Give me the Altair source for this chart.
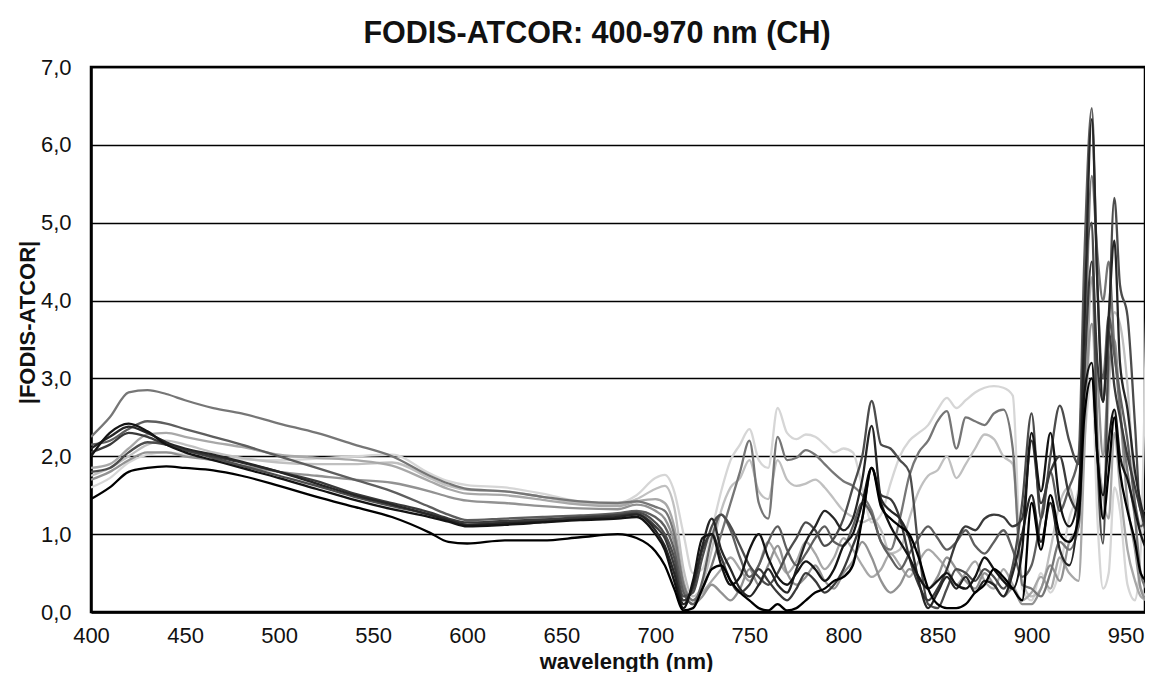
import altair as alt
import pandas as pd

# wavelength grid (nm)
wavelength = [400, 410, 420, 430, 440, 450, 465, 480, 500, 520,
              540, 560, 580, 590, 600, 620, 640, 660, 680, 690,
              700, 705, 710, 715, 720, 725, 730, 735, 740, 745,
              750, 755, 760, 765, 770, 775, 780, 785, 790, 795,
              800, 805, 810, 815, 820, 825, 830, 835, 840, 845,
              850, 855, 860, 865, 870, 875, 880, 885, 890, 895,
              900, 905, 910, 915, 920, 925, 928, 932, 935, 938,
              941, 944, 947, 951, 955, 958, 961]

s01 = [1.60, 1.72, 1.92, 2.02, 2.05, 2.02, 1.98, 1.96, 1.95, 1.97,
       2.00, 2.02, 1.78, 1.68, 1.63, 1.60, 1.52, 1.42, 1.40, 1.50,
       1.72, 1.76, 1.55, 1.00, 0.50, 0.55, 1.05, 1.55, 1.95, 2.15,
       2.35, 1.95, 1.85, 2.62, 2.30, 2.22, 2.28, 2.25, 2.15, 2.05,
       2.10, 2.05, 1.60, 1.15, 1.25, 1.65, 2.00, 2.20, 2.30, 2.40,
       2.60, 2.75, 2.62, 2.72, 2.82, 2.88, 2.90, 2.88, 2.78, 0.30,
       0.15, 0.50, 0.25, 0.55, 1.20, 1.60, 2.20, 3.00, 1.20, 0.30,
       0.50, 1.60, 1.30, 0.35, 0.15, 0.80, 3.90]
s02 = [1.75, 1.85, 2.00, 2.15, 2.20, 2.15, 2.05, 1.98, 1.92, 1.90,
       1.90, 1.92, 1.72, 1.62, 1.57, 1.55, 1.48, 1.40, 1.38, 1.45,
       1.58, 1.62, 1.35, 0.55, 0.20, 0.35, 0.80, 1.30, 1.60, 1.72,
       1.95, 1.55, 1.45, 1.95, 1.70, 1.62, 1.65, 1.70, 1.60, 1.45,
       1.30, 1.22, 1.15, 1.20, 1.05, 0.75, 0.80, 1.20, 1.55, 1.75,
       1.82, 2.00, 1.72, 1.90, 2.10, 2.28, 2.22, 2.00, 1.90, 0.40,
       0.20, 0.30, 0.80, 1.40, 1.60, 1.20, 2.20, 3.70, 2.40, 1.20,
       2.80, 3.85, 3.70, 2.90, 1.40, 0.30, 0.20]
s03 = [1.85, 1.90, 2.10, 2.28, 2.30, 2.25, 2.18, 2.12, 2.02, 1.98,
       1.95, 1.88, 1.68, 1.58, 1.52, 1.50, 1.44, 1.38, 1.36, 1.42,
       1.45, 1.40, 1.10, 0.40, 0.15, 0.25, 0.40, 0.55, 0.70, 0.55,
       0.40, 0.60, 0.90, 0.70, 0.50, 0.65, 0.90, 0.75, 0.55, 0.70,
       0.95, 0.80, 0.60, 0.45, 0.55, 0.75, 0.60, 0.45, 0.65, 0.80,
       0.70, 0.55, 0.35, 0.50, 0.65, 0.40, 0.30, 0.55, 0.35, 0.15,
       0.25, 0.45, 0.30, 0.70, 0.50, 0.40, 2.00, 4.30, 2.20, 1.50,
       1.20, 2.30, 1.60, 0.80, 0.40, 0.20, 0.15]
s04 = [1.70, 1.80, 1.95, 2.05, 2.05, 2.00, 1.95, 1.88, 1.80, 1.75,
       1.70, 1.66, 1.55, 1.48, 1.43, 1.40, 1.36, 1.33, 1.32, 1.38,
       1.30, 1.20, 0.90, 0.30, 0.10, 0.20, 0.35, 0.25, 0.15, 0.30,
       0.55, 0.35, 0.60, 0.85, 0.50, 0.35, 0.45, 0.60, 0.40, 0.30,
       0.50, 0.65, 0.90, 0.70, 0.40, 0.25, 0.35, 0.55, 0.45, 0.30,
       0.45, 0.70, 0.55, 0.40, 0.30, 0.50, 0.35, 0.20, 0.30, 0.10,
       0.10, 0.30, 0.60, 0.40, 0.90, 1.10, 2.50, 3.70, 3.00, 2.00,
       3.10, 3.50, 2.60, 1.40, 0.80, 0.30, 0.15]
s05 = [2.25, 2.50, 2.82, 2.85, 2.80, 2.72, 2.62, 2.55, 2.42, 2.30,
       2.15, 2.00, 1.75, 1.65, 1.58, 1.55, 1.48, 1.42, 1.40, 1.42,
       1.35, 1.30, 1.00, 0.35, 0.15, 0.30, 0.60, 1.00, 1.40, 1.80,
       2.20, 1.40, 1.20, 2.25, 1.95, 1.98, 2.08, 2.02, 1.90, 1.78,
       1.68, 1.62, 1.50, 1.30, 0.90, 0.80, 1.20, 1.75, 2.05, 2.20,
       2.45, 2.58, 2.10, 2.50, 2.45, 2.40, 2.55, 2.60, 2.10, 0.35,
       0.30, 0.20, 0.50, 0.90, 0.80, 1.10, 3.00, 5.60, 4.60, 4.00,
       4.50, 3.40, 2.60, 1.80, 1.20, 0.50, 0.30]
s06 = [2.15, 2.20, 2.35, 2.45, 2.42, 2.35, 2.25, 2.15, 2.00, 1.85,
       1.70, 1.55, 1.35, 1.25, 1.18, 1.20, 1.22, 1.24, 1.27, 1.30,
       1.22, 1.10, 0.80, 0.25, 0.10, 0.40, 0.95, 1.25, 1.05, 0.70,
       0.45, 0.60, 0.90, 1.10, 0.80, 0.60, 0.75, 0.95, 1.10, 0.90,
       0.85, 1.10, 1.40, 1.25, 0.90, 0.70, 0.55, 0.75, 0.95, 1.10,
       0.95, 0.80, 0.90, 1.05, 0.85, 0.75, 0.90, 1.05, 0.80, 0.45,
       0.60, 1.20, 1.80, 1.30, 1.60, 2.00, 4.50, 6.47, 4.20, 3.00,
       3.80, 3.30, 2.80, 2.20, 1.40, 1.10, 1.20]
s07 = [1.80, 1.85, 2.05, 2.18, 2.15, 2.08, 1.98, 1.88, 1.75, 1.62,
       1.48, 1.36, 1.25, 1.18, 1.12, 1.15, 1.18, 1.22, 1.25, 1.28,
       1.15, 1.00, 0.70, 0.20, 0.25, 0.70, 1.10, 1.25, 1.10, 0.85,
       0.60, 0.45, 0.35, 0.50, 0.75, 0.95, 1.15, 1.05, 0.85, 0.95,
       1.20, 1.60, 2.00, 2.71, 2.15, 2.10, 1.95, 1.80, 0.80, 0.10,
       0.05, 0.30, 0.55, 0.50, 0.40, 0.55, 0.45, 0.30, 0.60, 1.40,
       2.55, 1.20, 2.00, 2.65, 2.20, 1.90, 4.00, 5.00, 2.00, 0.88,
       3.50, 5.32, 4.20, 3.80, 2.40, 1.30, 1.30]
s08 = [2.05, 2.15, 2.30, 2.25, 2.15, 2.08, 2.00, 1.92, 1.80, 1.68,
       1.52, 1.40, 1.28, 1.20, 1.15, 1.17, 1.19, 1.21, 1.24, 1.26,
       1.10, 0.95, 0.60, 0.15, 0.30, 0.80, 1.00, 0.70, 0.40, 0.25,
       0.35, 0.55, 0.40, 0.25, 0.15, 0.30, 0.50, 0.40, 0.25, 0.35,
       0.55, 0.85, 1.20, 1.85, 1.50, 1.45, 1.20, 0.70, 0.35, 0.15,
       0.30, 0.55, 0.90, 1.10, 1.05, 1.20, 1.25, 1.22, 1.10, 1.20,
       2.20, 1.40, 1.80, 2.00, 1.50, 1.30, 3.00, 4.50, 3.20, 2.70,
       3.60, 2.90, 2.50, 2.00, 1.60, 1.30, 1.00]
s09 = [2.10, 2.25, 2.38, 2.30, 2.18, 2.10, 2.02, 1.93, 1.80, 1.65,
       1.50, 1.38, 1.25, 1.18, 1.12, 1.14, 1.16, 1.19, 1.22, 1.25,
       1.05, 0.85, 0.50, 0.10, 0.35, 0.85, 1.20, 0.80, 0.55, 0.30,
       0.20, 0.35, 0.55, 0.35, 0.25, 0.55, 0.90, 1.10, 1.30, 1.20,
       1.05, 1.20, 1.70, 2.39, 1.45, 1.30, 1.20, 0.95, 0.40, 0.05,
       0.25, 0.45, 0.30, 0.45, 0.25, 0.40, 0.35, 0.20, 0.50, 1.00,
       1.50, 0.90, 1.40, 0.80, 0.60, 1.40, 3.60, 6.33, 4.20, 2.70,
       3.80, 4.77, 3.20, 2.60, 1.80, 1.40, 1.10]
s10 = [2.00, 2.30, 2.42, 2.32, 2.15, 2.05, 1.95, 1.85, 1.72, 1.58,
       1.44, 1.32, 1.22, 1.16, 1.10, 1.12, 1.15, 1.18, 1.20, 1.22,
       1.00, 0.80, 0.40, 0.05, 0.40, 0.95, 1.00, 0.60, 0.35, 0.45,
       0.80, 1.00, 0.70, 0.45, 0.35, 0.50, 0.65, 0.55, 0.40, 0.55,
       0.85, 1.00, 1.40, 1.85, 1.40, 1.10, 0.90, 0.70, 0.45, 0.30,
       0.40, 0.50, 0.35, 0.30, 0.45, 0.70, 0.55, 0.40, 0.30, 0.80,
       2.30, 1.55, 2.30, 1.40, 1.10, 1.50, 2.80, 3.20, 2.00, 1.50,
       2.20, 2.60, 2.00, 1.70, 1.30, 1.00, 0.80]
s11 = [1.45, 1.60, 1.80, 1.85, 1.87, 1.85, 1.82, 1.75, 1.62, 1.48,
       1.35, 1.22, 1.02, 0.90, 0.88, 0.92, 0.92, 0.96, 1.00, 0.95,
       0.78, 0.60, 0.30, 0.02, 0.05, 0.30, 0.55, 0.60, 0.40, 0.25,
       0.15, 0.05, 0.02, 0.10, 0.02, 0.05, 0.15, 0.25, 0.30, 0.40,
       0.45, 0.60, 1.20, 1.85, 1.35, 1.20, 1.10, 1.00, 0.70, 0.30,
       0.10, 0.05, 0.05, 0.10, 0.25, 0.35, 0.55, 0.45, 0.30, 0.15,
       1.40, 0.80, 1.50, 1.00, 0.90, 1.20, 2.50, 3.00, 2.00, 1.20,
       1.80, 2.50, 1.80, 1.30, 0.90, 0.50, 0.40]

series_names = ["s01", "s02", "s03", "s04", "s05", "s06", "s07", "s08", "s09", "s10", "s11"]
series_values = [s01, s02, s03, s04, s05, s06, s07, s08, s09, s10, s11]
series_colors = ["#d6d6d6", "#c0c0c0", "#a8a8a8", "#929292", "#767676", "#5e5e5e",
                 "#4c4c4c", "#3a3a3a", "#262626", "#141414", "#000000"]

y_ticks = [0, 1, 2, 3, 4, 5, 6, 7]
x_ticks = [400, 450, 500, 550, 600, 650, 700, 750, 800, 850, 900, 950]

rows = []
for name, vals in zip(series_names, series_values):
    for w, v in zip(wavelength, vals):
        rows.append({"wl": w, "val": v, "s": name})
df = pd.DataFrame(rows)

FONT = "Liberation Sans"

chart = alt.Chart(df).mark_line(interpolate="monotone", strokeWidth=2.3, clip=True).encode(
    x=alt.X("wl:Q",
            scale=alt.Scale(domain=[400, 960.3], nice=False, zero=False),
            axis=alt.Axis(values=x_ticks, title="wavelength (nm)", grid=False, ticks=False,
                          labelFontSize=22, titleFontSize=22, titleFontWeight="bold",
                          labelFont=FONT, titleFont=FONT, labelColor="#111", titleColor="#111",
                          labelPadding=13, titlePadding=5, titleX=535,
                          domainColor="black", domainWidth=2.5, labelFlush=False)),
    y=alt.Y("val:Q",
            scale=alt.Scale(domain=[0, 7], nice=False),
            axis=alt.Axis(values=y_ticks, title="|FODIS-ATCOR|", grid=True, gridColor="black",
                          gridWidth=1.5, gridOpacity=1, ticks=False,
                          labelExpr="replace(format(datum.value, '.1f'), '.', ',')",
                          labelFontSize=22, titleFontSize=22, titleFontWeight="bold",
                          labelFont=FONT, titleFont=FONT, labelColor="#111", titleColor="#111",
                          labelPadding=20, titlePadding=1, titleY=255,
                          domainColor="black", domainWidth=2.5)),
    color=alt.Color("s:N", scale=alt.Scale(domain=series_names, range=series_colors), legend=None),
    order=alt.Order("wl:Q"),
).properties(
    width=1054, height=545,
    title=alt.TitleParams("FODIS-ATCOR: 400-970 nm (CH)", fontSize=30.5, fontWeight="bold",
                          font=FONT, color="#111", anchor="middle", dx=-21, offset=7),
    padding={"left": 8, "top": 10, "right": 0, "bottom": 0},
).configure_view(stroke="black", strokeWidth=2.5)

chart.save("out.html", embed_options={"renderer": "svg", "actions": False})
